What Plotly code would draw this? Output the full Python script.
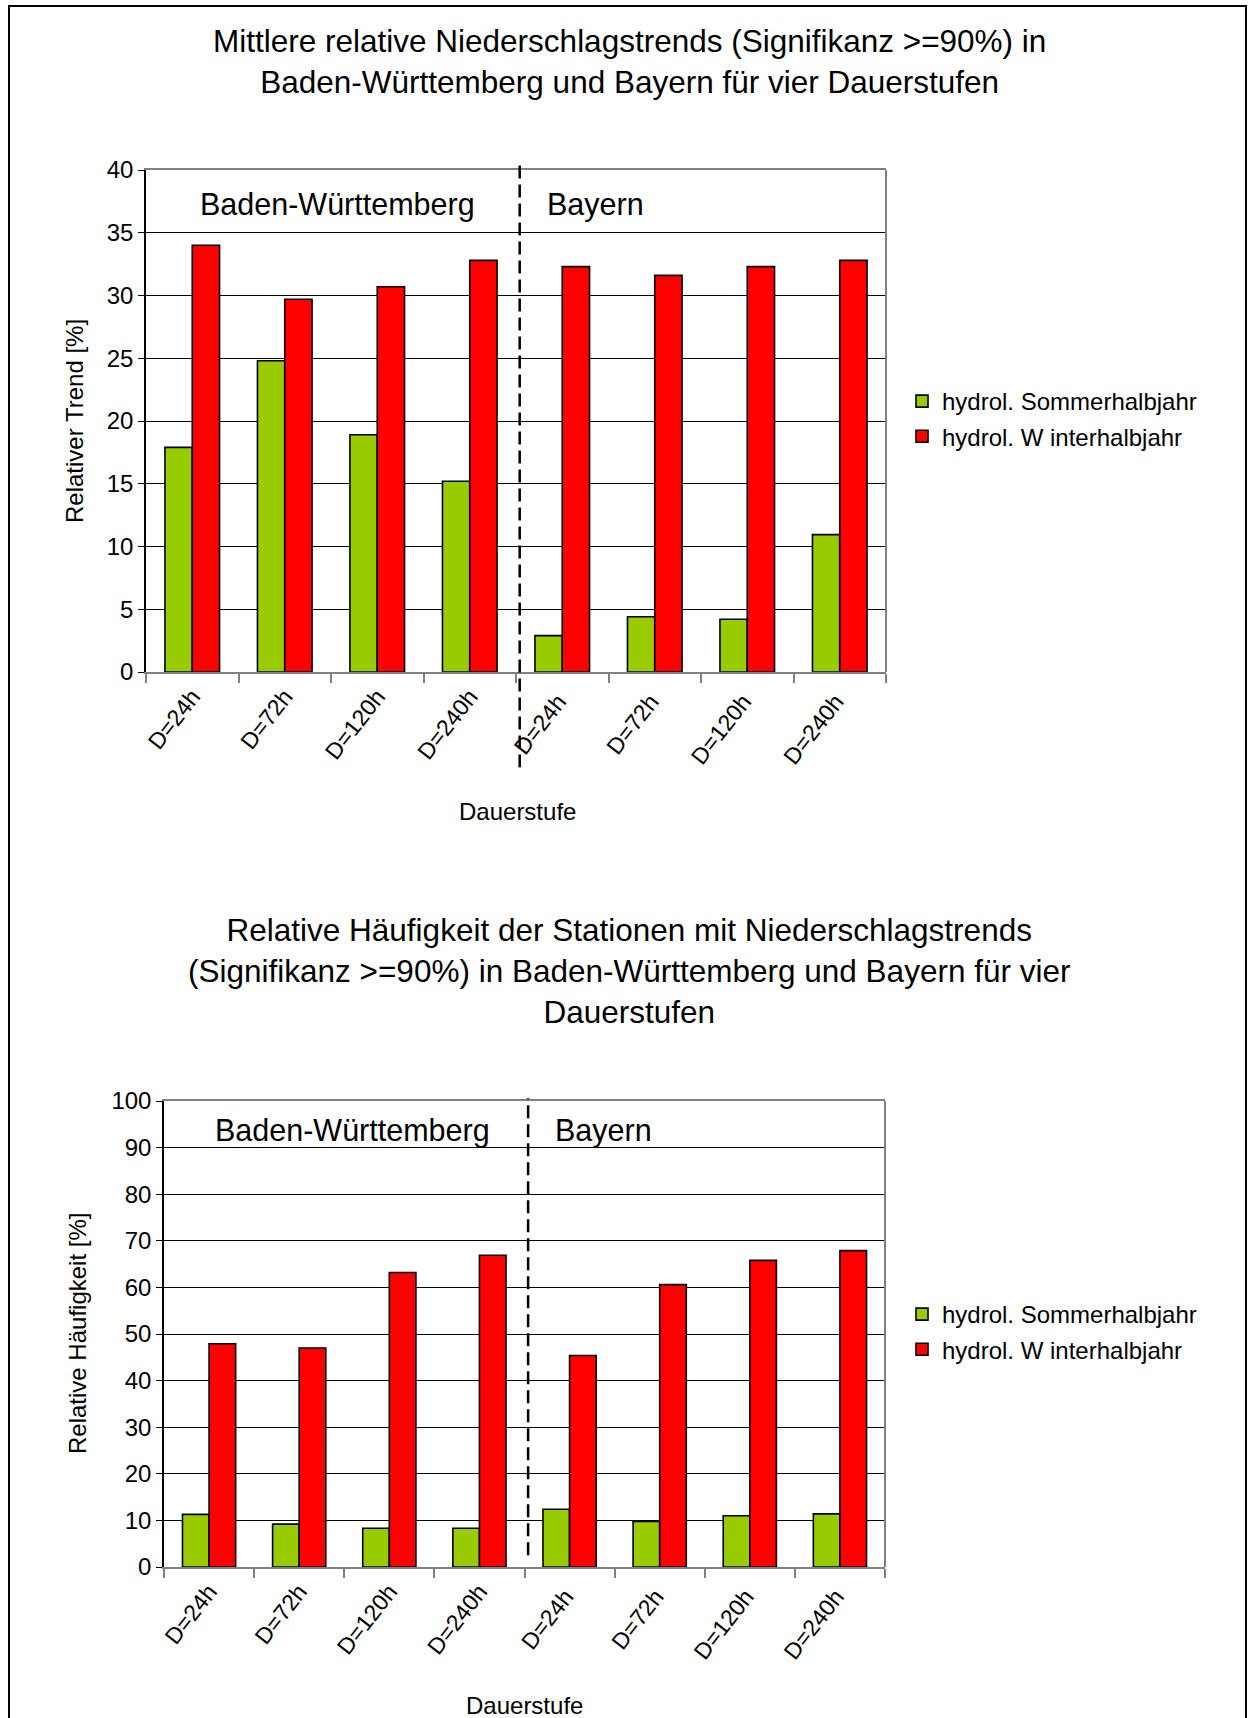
import plotly.graph_objects as go

categories = ["D=24h", "D=72h", "D=120h", "D=240h", "D=24h ", "D=72h ", "D=120h ", "D=240h "]
regions = ["Baden-Württemberg", "Bayern"]
series_names = ["hydrol. Sommerhalbjahr", "hydrol. W interhalbjahr"]

trend_sommer = [17.9, 24.8, 18.9, 15.2, 2.9, 4.4, 4.2, 10.95]
trend_winter = [34.0, 29.7, 30.7, 32.8, 32.3, 31.6, 32.3, 32.8]

haeuf_sommer = [11.3, 9.2, 8.3, 8.3, 12.4, 9.8, 11.0, 11.4]
haeuf_winter = [47.9, 47.0, 63.2, 66.9, 45.4, 60.6, 65.8, 67.9]

title1 = "Mittlere relative Niederschlagstrends (Signifikanz >=90%) in<br>Baden-Württemberg und Bayern für vier Dauerstufen"
title2 = "Relative Häufigkeit der Stationen mit Niederschlagstrends<br>(Signifikanz >=90%) in Baden-Württemberg und Bayern für vier<br>Dauerstufen"

GREEN = "#99CC00"
RED = "#FF0000"
FONT = "Liberation Sans, Arial, sans-serif"
W, H = 1250, 1718

def px(x):
    return x / W

def py(y):
    return 1 - y / H

fig = go.Figure()

def bar(vals, i, xa, ya, leg):
    return go.Bar(x=categories, y=vals, name=series_names[i],
                  marker=dict(color=[GREEN, RED][i], line=dict(color="black", width=1.6)),
                  xaxis=xa, yaxis=ya, legend=leg, legendgroup=leg + str(i))

fig.add_trace(bar(trend_sommer, 0, "x", "y", "legend"))
fig.add_trace(bar(trend_winter, 1, "x", "y", "legend"))
fig.add_trace(bar(haeuf_sommer, 0, "x2", "y2", "legend2"))
fig.add_trace(bar(haeuf_winter, 1, "x2", "y2", "legend2"))

xcommon = dict(type="category", tickson="boundaries", ticks="outside", ticklen=9, tickcolor="#808080", tickwidth=1.5,
               showline=True, linecolor="#808080", linewidth=2, mirror=True, showgrid=False, automargin=False,
               tickangle=-52, tickfont=dict(family=FONT, size=23, color="black"))
ycommon = dict(ticks="outside", ticklen=6, tickcolor="black", showline=True, linecolor="black", linewidth=1.5,
               showgrid=True, gridcolor="black", gridwidth=1, zeroline=False, automargin=False,
               tickfont=dict(family=FONT, size=24, color="black"))

legfont = dict(family=FONT, size=24, color="black")
fig.update_layout(
    width=W, height=H,
    margin=dict(l=0, r=0, t=0, b=0, pad=0, autoexpand=False),
    paper_bgcolor="white", plot_bgcolor="white",
    barmode="group", bargap=0.41, bargroupgap=0,
    font=dict(family=FONT, color="black"),
    xaxis=dict(domain=[px(146), px(886)], anchor="y", **xcommon),
    yaxis=dict(domain=[py(672), py(170)], anchor="x", range=[0, 40], dtick=5, **ycommon),
    xaxis2=dict(domain=[px(164), px(885)], anchor="y2", **xcommon),
    yaxis2=dict(domain=[py(1567), py(1101)], anchor="x2", range=[0, 100], dtick=10, **ycommon),
    legend=dict(x=px(902), y=py(379), xanchor="left", yanchor="top", font=legfont,
                bgcolor="rgba(0,0,0,0)", itemwidth=30, tracegroupgap=1),
    legend2=dict(x=px(902), y=py(1292), xanchor="left", yanchor="top", font=legfont,
                 bgcolor="rgba(0,0,0,0)", itemwidth=30, tracegroupgap=1),
)

# right border of plot areas in gray
for xr, yr in (("x", "y"), ("x2", "y2")):
    fig.add_shape(type="line", xref=xr + " domain", yref=yr + " domain", x0=1, x1=1, y0=0, y1=1,
                  line=dict(color="#808080", width=2))

# dashed separators between regions
fig.add_shape(type="line", xref="x domain", yref="y domain", x0=0.505, x1=0.505, y0=-0.19, y1=1.012,
              line=dict(color="black", width=2.5, dash="13px,6px"))
fig.add_shape(type="line", xref="x2 domain", yref="y2 domain", x0=0.505, x1=0.505, y0=0.025, y1=1.006,
              line=dict(color="black", width=2.5, dash="13px,6px"))

# outer frame
fig.add_shape(type="rect", xref="paper", yref="paper", x0=px(9), x1=px(1246), y0=-0.05, y1=py(6),
              line=dict(color="black", width=2))

annots = [
    dict(text=title1, x=px(629), y=py(61), font=dict(size=31.5)),
    dict(text=title2, x=px(629), y=py(971), font=dict(size=31.5)),
    dict(text=regions[0], x=px(337), y=py(205), font=dict(size=30.5)),
    dict(text=regions[1], x=px(595), y=py(205), font=dict(size=30.5)),
    dict(text=regions[0], x=px(352), y=py(1130), font=dict(size=30.5)),
    dict(text=regions[1], x=px(603), y=py(1130), font=dict(size=30.5)),
    dict(text="Dauerstufe", x=px(517), y=py(811), font=dict(size=24)),
    dict(text="Dauerstufe", x=px(524), y=py(1705), font=dict(size=24)),
    dict(text="Relativer Trend [%]", x=px(74), y=py(421), font=dict(size=24), textangle=-90),
    dict(text="Relative Häufigkeit [%]", x=px(77), y=py(1334), font=dict(size=24), textangle=-90),
]
for a in annots:
    f = dict(family=FONT, color="black")
    f.update(a.pop("font"))
    fig.add_annotation(xref="paper", yref="paper", showarrow=False, xanchor="center", yanchor="middle",
                       font=f, **a)

fig.write_html(
    "out.html",
    config={"displayModeBar": False},
    post_script="document.documentElement.style.margin='0';document.documentElement.style.padding='0';"
                "document.body.style.margin='0';document.body.style.padding='0';"
                "document.documentElement.style.overflow='hidden';",
)
